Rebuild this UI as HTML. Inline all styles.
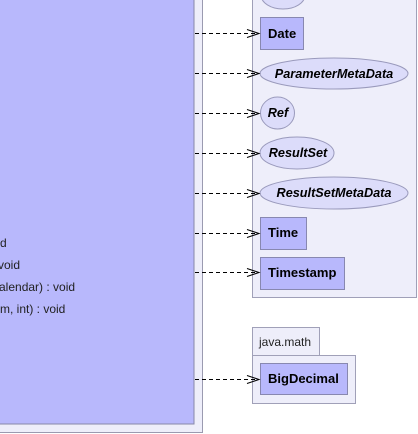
<!DOCTYPE html>
<html><head><style>body{margin:0;background:#fff}svg{display:block}</style></head><body>
<svg width="418" height="434" xmlns="http://www.w3.org/2000/svg" font-family="Liberation Sans, sans-serif">
<rect x="-5" y="-5" width="207.5" height="437.5" fill="#eeeefa" stroke="#9a9ab0" stroke-width="1"/>
<rect x="-5" y="-5" width="199" height="429" fill="#b8b8fc" stroke="#8888a8" stroke-width="1"/>
<g font-size="12" fill="#222">
<text x="0" y="247">d</text>
<text x="-2" y="269">void</text>
<text x="-1" y="291">alendar) : void</text>
<text x="0" y="313">m, int) : void</text>
</g>
<rect x="252.5" y="-5" width="164" height="302.5" fill="#eeeefa" stroke="#a0a0b8"/>
<ellipse cx="283" cy="-5" rx="22" ry="14" fill="#dcdcfa" stroke="#9a9abc"/>
<g font-weight="bold" font-size="13" fill="#000">
<rect x="260.5" y="17.5" width="43" height="32" fill="#b8b8fc" stroke="#8888b0"/>
<text x="268" y="38">Date</text>
<ellipse cx="334" cy="73.5" rx="74" ry="15.5" fill="#dcdcfa" stroke="#9a9abc"/>
<text x="334" y="78" text-anchor="middle" font-style="italic" font-size="12.7">ParameterMetaData</text>
<ellipse cx="277.5" cy="113" rx="17" ry="16" fill="#dcdcfa" stroke="#9a9abc"/>
<text x="278" y="117" text-anchor="middle" font-style="italic" font-size="12.7">Ref</text>
<ellipse cx="297" cy="153" rx="37" ry="16" fill="#dcdcfa" stroke="#9a9abc"/>
<text x="298" y="157" text-anchor="middle" font-style="italic" font-size="12.7">ResultSet</text>
<ellipse cx="334" cy="193" rx="74" ry="16" fill="#dcdcfa" stroke="#9a9abc"/>
<text x="334" y="197" text-anchor="middle" font-style="italic" font-size="12.7">ResultSetMetaData</text>
<rect x="260.5" y="217.5" width="46" height="32" fill="#b8b8fc" stroke="#8888b0"/>
<text x="268" y="237">Time</text>
<rect x="260.5" y="257.5" width="84" height="32" fill="#b8b8fc" stroke="#8888b0"/>
<text x="268" y="277">Timestamp</text>
</g>
<rect x="252.5" y="327.5" width="67" height="28" fill="#eeeefa" stroke="#a0a0b8"/>
<text x="259" y="346" font-size="12" fill="#222">java.math</text>
<rect x="252.5" y="355.5" width="103" height="48" fill="#eeeefa" stroke="#a0a0b8"/>
<rect x="260.5" y="363.5" width="87" height="31" fill="#b8b8fc" stroke="#8888b0"/>
<text x="268" y="383" font-weight="bold" font-size="13">BigDecimal</text>
<g stroke="#000" fill="none" stroke-width="1">
<g stroke-dasharray="4,3">
<line x1="195" y1="33.5" x2="259" y2="33.5"/><line x1="195" y1="73.5" x2="259" y2="73.5"/>
<line x1="195" y1="113.5" x2="259" y2="113.5"/><line x1="195" y1="153.5" x2="259" y2="153.5"/>
<line x1="195" y1="193.5" x2="259" y2="193.5"/><line x1="195" y1="233.5" x2="259" y2="233.5"/>
<line x1="195" y1="272.5" x2="259" y2="272.5"/><line x1="195" y1="379.5" x2="259" y2="379.5"/>
</g>
<path d="M247 29.5L259 33.5L247 37.5M247 69.5L259 73.5L247 77.5M247 109.5L259 113.5L247 117.5M247 149.5L259 153.5L247 157.5M247 189.5L259 193.5L247 197.5M247 229.5L259 233.5L247 237.5M247 268.5L259 272.5L247 276.5M247 375.5L259 379.5L247 383.5"/>
</g>
</svg>
</body></html>
